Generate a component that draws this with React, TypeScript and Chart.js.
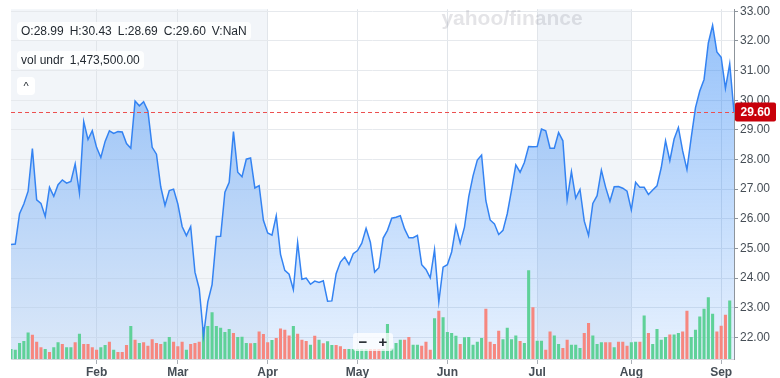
import React, { useEffect, useRef } from 'react';
import { Chart, registerables } from 'chart.js';

Chart.register(...registerables);

// ---- data ----
const monthNames = ['Feb', 'Mar', 'Apr', 'May', 'Jun', 'Jul', 'Aug', 'Sep'];
const monthStartIdx = [20, 39, 60, 81, 102, 123, 145, 166];

const closePrices = [
  25.13, 25.15, 26.17, 26.5, 26.93, 28.37, 26.64, 26.52, 26.08, 27.06,
  26.76, 27.15, 27.31, 27.2, 27.26, 27.85, 26.87, 29.28, 28.67, 28.97,
  28.41, 28.07, 28.61, 28.97, 28.88, 28.94, 28.93, 28.54, 28.38, 29.97,
  29.81, 29.95, 29.64, 28.41, 28.18, 27.08, 26.45, 26.95, 27.0, 26.5,
  25.74, 25.43, 25.74, 24.2, 23.64, 22.05, 23.2, 23.78, 25.4, 25.41,
  26.9, 27.23, 28.94, 27.57, 27.42, 28.01, 28.05, 27.04, 27.12, 25.95,
  25.52, 25.45, 26.1, 24.8, 24.26, 24.13, 23.61, 25.2, 23.96, 24.0,
  23.79, 23.9, 23.85, 23.91, 23.22, 23.23, 24.15, 24.54, 24.71, 24.46,
  24.82, 24.93, 25.18, 25.68, 25.21, 24.2, 24.35, 25.35, 25.61, 26.02,
  26.05, 26.1, 25.66, 25.36, 25.36, 25.44, 24.45, 24.29, 24.01, 24.96,
  23.2, 24.37, 24.45, 24.88, 25.75, 25.18, 25.72, 26.75, 27.45, 27.98,
  28.15, 26.61, 25.96, 25.83, 25.47, 25.61, 26.17, 26.97, 27.82, 27.57,
  27.9, 28.44, 28.43, 28.44, 29.03, 28.97, 28.38, 28.38, 28.91, 28.63,
  26.64, 27.59, 26.7, 26.99, 25.92, 25.44, 26.52, 26.78, 27.64, 27.06,
  26.59, 27.08, 27.09, 27.03, 26.93, 26.3, 27.23, 27.06, 27.06, 26.82,
  26.97, 27.11, 27.73, 28.63, 27.96, 28.69, 29.08, 28.29, 27.66, 28.74,
  29.75, 30.31, 30.7, 31.93, 32.53, 31.63, 31.45, 30.4, 31.23, 29.6,
];

// volume, millions of shares
const volumeM = [
  1.0, 0.93, 1.6, 1.8, 2.67, 2.43, 1.73, 1.17, 1.0, 0.7,
  1.17, 1.67, 1.5, 1.17, 1.17, 1.67, 2.53, 1.5, 1.5, 1.17,
  0.93, 1.17, 1.4, 1.73, 0.93, 0.7, 0.7, 1.4, 3.3, 1.93,
  1.6, 1.67, 1.33, 1.97, 1.6, 1.5, 1.73, 2.2, 1.73, 1.27,
  1.73, 0.93, 1.5, 1.6, 1.73, 3.2, 3.3, 4.7, 3.3, 3.13,
  2.7, 3.0, 2.6, 2.2, 2.23, 1.6, 1.57, 1.6, 2.77, 2.5,
  1.67, 1.9, 2.1, 3.07, 2.93, 2.37, 3.3, 2.53, 1.93, 1.8,
  1.43, 2.33, 1.93, 1.57, 1.77, 1.4, 1.4, 1.27, 1.0, 1.0,
  1.0, 1.0, 1.0, 1.0, 1.0, 1.0, 1.0, 1.0, 3.5, 1.05,
  1.6, 1.93, 1.93, 2.2, 1.43, 1.43, 1.33, 1.73, 0.93, 4.1,
  4.83, 4.2, 2.7, 2.6, 2.33, 1.5, 2.17, 2.2, 1.43, 1.73,
  2.1, 5.03, 1.73, 1.5, 2.83, 1.97, 3.13, 1.97, 2.37, 1.8,
  1.6, 8.9, 5.2, 1.83, 1.83, 0.93, 2.77, 2.37, 1.5, 1.1,
  1.93, 1.43, 1.43, 1.1, 2.6, 3.6, 2.37, 1.5, 1.67, 1.67,
  1.67, 1.17, 1.73, 1.73, 1.33, 1.67, 1.73, 1.73, 4.37, 2.6,
  1.5, 3.0, 1.93, 2.2, 2.47, 2.47, 2.6, 2.77, 4.83, 2.2,
  2.93, 4.27, 5.03, 6.2, 4.53, 2.77, 3.33, 4.43, 5.87, null,
];

// 1 = up day (green), 0 = down day (red)
const volumeUp = [
  1, 1, 1, 1, 1, 0, 0, 0, 1, 0,
  1, 1, 0, 1, 1, 0, 1, 0, 0, 0,
  0, 1, 1, 0, 1, 0, 0, 0, 1, 0,
  1, 0, 0, 0, 0, 0, 1, 1, 0, 0,
  0, 1, 0, 0, 0, 1, 1, 1, 1, 1,
  1, 1, 0, 1, 1, 1, 0, 1, 0, 0,
  0, 1, 0, 0, 0, 0, 1, 0, 0, 0,
  1, 0, 1, 0, 1, 1, 0, 0, 0, 1,
  1, 1, 1, 1, 0, 0, 0, 1, 1, 1,
  1, 1, 0, 0, 1, 1, 0, 0, 0, 1,
  0, 1, 1, 1, 1, 0, 1, 1, 1, 1,
  1, 0, 0, 0, 0, 1, 1, 1, 1, 0,
  1, 1, 0, 1, 1, 0, 0, 1, 1, 0,
  0, 1, 1, 1, 0, 0, 1, 1, 1, 0,
  0, 1, 0, 0, 0, 1, 1, 0, 1, 0,
  1, 1, 1, 1, 0, 1, 1, 0, 0, 1,
  1, 1, 1, 1, 1, 0, 0, 0, 1, 1,
];

const yTickValues = [22, 23, 24, 25, 26, 27, 28, 29, 30, 31, 32, 33];
const lastClose = 29.6;
const shadedRanges = [
  [0, 60],
  [123, 145],
];

const ohlcItems = ['O:28.99', 'H:30.43', 'L:28.69', 'C:29.60', 'V:NaN'];
const volLabel = 'vol undr';
const volValue = '1,473,500.00';

const FONT = '"Liberation Sans", Arial, Helvetica, sans-serif';

const labels = closePrices.map((_, i) => {
  const k = monthStartIdx.indexOf(i);
  return k >= 0 ? monthNames[k] : '';
});

const decorPlugin = {
  id: 'decor',
  beforeDraw(chart: any) {
    const { ctx, chartArea, scales } = chart;
    const x = scales.x;
    ctx.save();
    ctx.fillStyle = '#f2f5f9';
    shadedRanges.forEach(([a, b]) => {
      const x0 = x.getPixelForValue(a);
      const x1 = x.getPixelForValue(b);
      ctx.fillRect(x0, chartArea.top, x1 - x0, chartArea.bottom - chartArea.top);
    });
    ctx.restore();
  },
  beforeDatasetsDraw(chart: any) {
    const { ctx } = chart;
    ctx.save();
    ctx.fillStyle = 'rgba(120,120,135,0.2)';
    ctx.font = 'bold 21px ' + FONT;
    ctx.textAlign = 'center';
    ctx.textBaseline = 'middle';
    ctx.fillText('yahoo/finance', 512, 19);
    ctx.restore();
  },
  afterDraw(chart: any) {
    const { ctx, chartArea, scales } = chart;
    const y = scales.y.getPixelForValue(lastClose);
    ctx.save();
    ctx.strokeStyle = '#ec5050';
    ctx.lineWidth = 1;
    ctx.setLineDash([4, 3]);
    ctx.beginPath();
    ctx.moveTo(chartArea.left, Math.round(y) + 0.5);
    ctx.lineTo(chartArea.right, Math.round(y) + 0.5);
    ctx.stroke();
    ctx.setLineDash([]);
    const bx = chartArea.right + 1;
    const bw = 41;
    const bh = 19;
    ctx.fillStyle = '#c8000a';
    ctx.beginPath();
    (ctx as any).roundRect ? ctx.roundRect(bx, y - bh / 2, bw, bh, 2) : ctx.rect(bx, y - bh / 2, bw, bh);
    ctx.fill();
    ctx.fillStyle = '#ffffff';
    ctx.font = 'bold 12px ' + FONT;
    ctx.textAlign = 'center';
    ctx.textBaseline = 'middle';
    ctx.fillText(lastClose.toFixed(2), bx + bw / 2, y + 1);
    ctx.restore();
  },
};

export default function App() {
  const canvasRef = useRef<HTMLCanvasElement | null>(null);

  useEffect(() => {
    if (!canvasRef.current) return;
    const chart = new Chart(canvasRef.current, {
      type: 'bar',
      data: {
        labels,
        datasets: [
          {
            type: 'line',
            label: 'Close',
            data: closePrices,
            yAxisID: 'y',
            borderColor: '#3483f2',
            borderWidth: 1.5,
            pointRadius: 0,
            tension: 0,
            fill: 'start',
            backgroundColor: (c: any) => {
              const { chart: ch } = c;
              const area = ch.chartArea;
              if (!area) return 'rgba(40,130,245,0.3)';
              const g = ch.ctx.createLinearGradient(0, area.top, 0, area.bottom);
              g.addColorStop(0, 'rgba(40,130,245,0.5)');
              g.addColorStop(1, 'rgba(40,130,245,0.11)');
              return g;
            },
            order: 1,
          } as any,
          {
            type: 'bar',
            label: 'Volume',
            data: volumeM,
            yAxisID: 'yv',
            backgroundColor: volumeUp.map((u) => (u ? '#5fd198' : '#f6877f')),
            barPercentage: 0.72,
            categoryPercentage: 1,
            order: 2,
          } as any,
        ],
      },
      options: {
        responsive: false,
        animation: false,
        layout: { padding: { left: 11, top: 4, right: 0, bottom: 0 } },
        plugins: {
          legend: { display: false },
          tooltip: { enabled: false },
          filler: { drawTime: 'beforeDatasetsDraw' } as any,
        },
        scales: {
          x: {
            type: 'category',
            offset: false,
            grid: {
              offset: false,
              color: (c: any) => (labels[c.index] ? '#e1e5ea' : 'rgba(0,0,0,0)'),
              tickColor: (c: any) => (labels[c.index] ? '#a9afb6' : 'rgba(0,0,0,0)'),
              tickLength: 5,
            },
            border: { color: '#d3d7dc' },
            ticks: {
              autoSkip: false,
              maxRotation: 0,
              padding: 1,
              color: '#464e56',
              font: { size: 12, family: FONT, weight: 'bold' },
              callback: (_v: any, i: number) => labels[i],
            },
            afterFit: (s: any) => {
              s.height = 19;
            },
          } as any,
          y: {
            type: 'linear',
            position: 'right',
            min: 21.27,
            max: 33.07,
            afterBuildTicks: (s: any) => {
              s.ticks = yTickValues.map((v) => ({ value: v }));
            },
            grid: { color: '#e6e9ed', tickColor: '#8d949b', tickLength: 4 },
            border: { color: '#8d949b' },
            ticks: {
              padding: 2,
              color: '#464e56',
              font: { size: 12, family: FONT },
              callback: (v: any) => Number(v).toFixed(2),
            },
            afterFit: (s: any) => {
              s.width = 46;
            },
          } as any,
          yv: {
            type: 'linear',
            display: false,
            min: 0,
            max: 35.1,
          },
        },
      },
      plugins: [decorPlugin],
    });
    return () => chart.destroy();
  }, []);

  const boxStyle: React.CSSProperties = {
    position: 'absolute',
    left: 17,
    height: 18,
    lineHeight: '18px',
    padding: '0 4px',
    background: 'rgba(255,255,255,0.85)',
    borderRadius: 4,
    fontFamily: FONT,
    fontSize: 12,
    color: '#232a31',
    whiteSpace: 'nowrap',
  };

  return (
    <div style={{ position: 'fixed', left: 0, top: 0, width: 780, height: 378, background: '#ffffff' }}>
      <canvas ref={canvasRef} width={780} height={378} style={{ display: 'block' }} />
      <div style={{ ...boxStyle, top: 22 }}>
        {ohlcItems.map((t, i) => (
          <span key={i} style={{ marginRight: i < ohlcItems.length - 1 ? 6 : 0 }}>
            {t}
          </span>
        ))}
      </div>
      <div style={{ ...boxStyle, top: 51 }}>
        <span style={{ marginRight: 6 }}>{volLabel}</span>
        <span>{volValue}</span>
      </div>
      <div
        style={{
          ...boxStyle,
          top: 77,
          width: 18,
          padding: 0,
          textAlign: 'center',
          fontSize: 11,
          background: '#ffffff',
        }}
      >
        ^
      </div>
      <div
        style={{
          position: 'absolute',
          left: 353,
          top: 333,
          width: 40,
          height: 18,
          lineHeight: '18px',
          background: 'rgba(255,255,255,0.75)',
          borderRadius: 3,
          fontFamily: FONT,
          fontSize: 15,
          fontWeight: 'bold',
          color: '#232a31',
          display: 'flex',
          justifyContent: 'space-around',
        }}
      >
        <span>−</span>
        <span>+</span>
      </div>
    </div>
  );
}
